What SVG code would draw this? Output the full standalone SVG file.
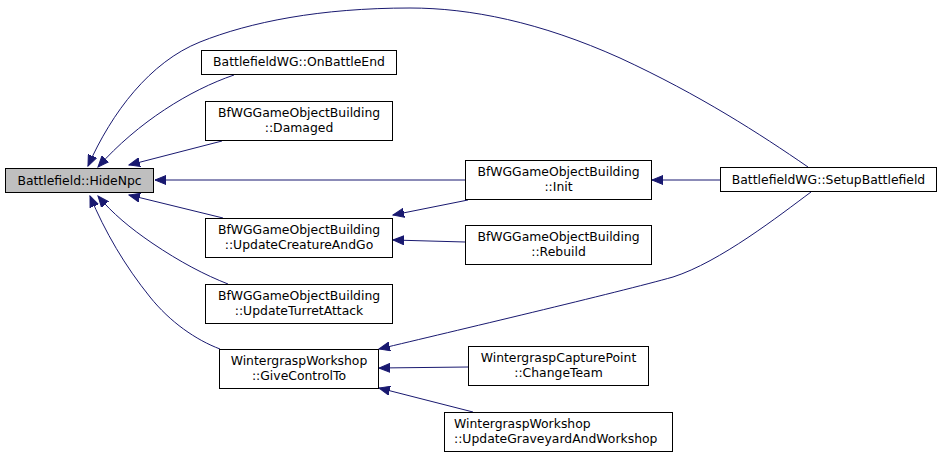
<svg xmlns="http://www.w3.org/2000/svg" width="944" height="458" viewBox="0 0 944 458">
<style>
.node rect{fill:#ffffff;stroke:#000000;stroke-width:1}
.node text{font-family:"DejaVu Sans",sans-serif;font-size:12.4px;fill:#000000;text-anchor:middle}
.edge path{fill:none;stroke:#191970;stroke-width:1;marker-end:url(#ah)}
</style>
<defs>
<marker id="ah" markerWidth="12" markerHeight="10" refX="11" refY="5" orient="auto" markerUnits="userSpaceOnUse">
<path d="M0,0.5 L11,5 L0,9.5 z" fill="#191970" stroke="#191970" stroke-width="1"/>
</marker>
</defs>
<rect width="944" height="458" fill="#ffffff"/>
<g id="edges" class="edge">
<path d="M808,167 C760,134 700,95 620,58 C540,22 470,8 410,8 C320,8 250,22 200,42 C150,62 112,112 88,166"/>
<path d="M234,75 C190,90 138,122 98,167"/>
<path d="M222,141 L129,165"/>
<path d="M465,180 L155,180"/>
<path d="M223,218 L129,195"/>
<path d="M228,284 C205,275 180,262 152,243 C130,228 112,213 98,196"/>
<path d="M220,349 C196,340 170,322 150,297 C125,266 105,232 90,196"/>
<path d="M468,200 L393,215"/>
<path d="M465,242 L393,240"/>
<path d="M720,180 L652,180"/>
<path d="M811,192 C780,215 720,262 673,277 C620,292 450,332 379,349"/>
<path d="M468,367 L379,368"/>
<path d="M473,412 L379,388"/>
</g>
<g id="hidenpc" class="node">
<rect x="5.5" y="168.5" width="148" height="24" style="fill:#bfbfbf"/>
<text x="79.5" y="184.5">Battlefield::HideNpc</text>
</g>
<g id="onbattleend" class="node">
<rect x="201.5" y="50.5" width="195" height="24"/>
<text x="299" y="66">BattlefieldWG::OnBattleEnd</text>
</g>
<g id="damaged" class="node">
<rect x="205.5" y="101.5" width="187" height="39"/>
<text x="299" y="117.3">BfWGGameObjectBuilding</text>
<text x="299" y="131.8">::Damaged</text>
</g>
<g id="updatecreatureandgo" class="node">
<rect x="205.5" y="218.5" width="187" height="39"/>
<text x="299" y="234.3">BfWGGameObjectBuilding</text>
<text x="299" y="248.8">::UpdateCreatureAndGo</text>
</g>
<g id="updateturretattack" class="node">
<rect x="205.5" y="284.5" width="187" height="39"/>
<text x="299" y="300.3">BfWGGameObjectBuilding</text>
<text x="299" y="314.8">::UpdateTurretAttack</text>
</g>
<g id="givecontrolto" class="node">
<rect x="219.5" y="349.5" width="159" height="39"/>
<text x="299" y="365.3">WintergraspWorkshop</text>
<text x="299" y="379.8">::GiveControlTo</text>
</g>
<g id="init" class="node">
<rect x="465.5" y="160.5" width="186" height="39"/>
<text x="558.5" y="176.3">BfWGGameObjectBuilding</text>
<text x="558.5" y="190.8">::Init</text>
</g>
<g id="rebuild" class="node">
<rect x="465.5" y="225.5" width="186" height="39"/>
<text x="558.5" y="241.3">BfWGGameObjectBuilding</text>
<text x="558.5" y="255.8">::Rebuild</text>
</g>
<g id="setupbattlefield" class="node">
<rect x="720.5" y="167.5" width="216" height="24"/>
<text x="828.5" y="183.5">BattlefieldWG::SetupBattlefield</text>
</g>
<g id="changeteam" class="node">
<rect x="468.5" y="346.5" width="180" height="39"/>
<text x="558.5" y="362.3">WintergraspCapturePoint</text>
<text x="558.5" y="376.8">::ChangeTeam</text>
</g>
<g id="updategraveyardandworkshop" class="node">
<rect x="444.5" y="412.5" width="228" height="39"/>
<text x="454" y="428.3" style="text-anchor:start">WintergraspWorkshop</text>
<text x="454" y="442.8" style="text-anchor:start">::UpdateGraveyardAndWorkshop</text>
</g>
</svg>
